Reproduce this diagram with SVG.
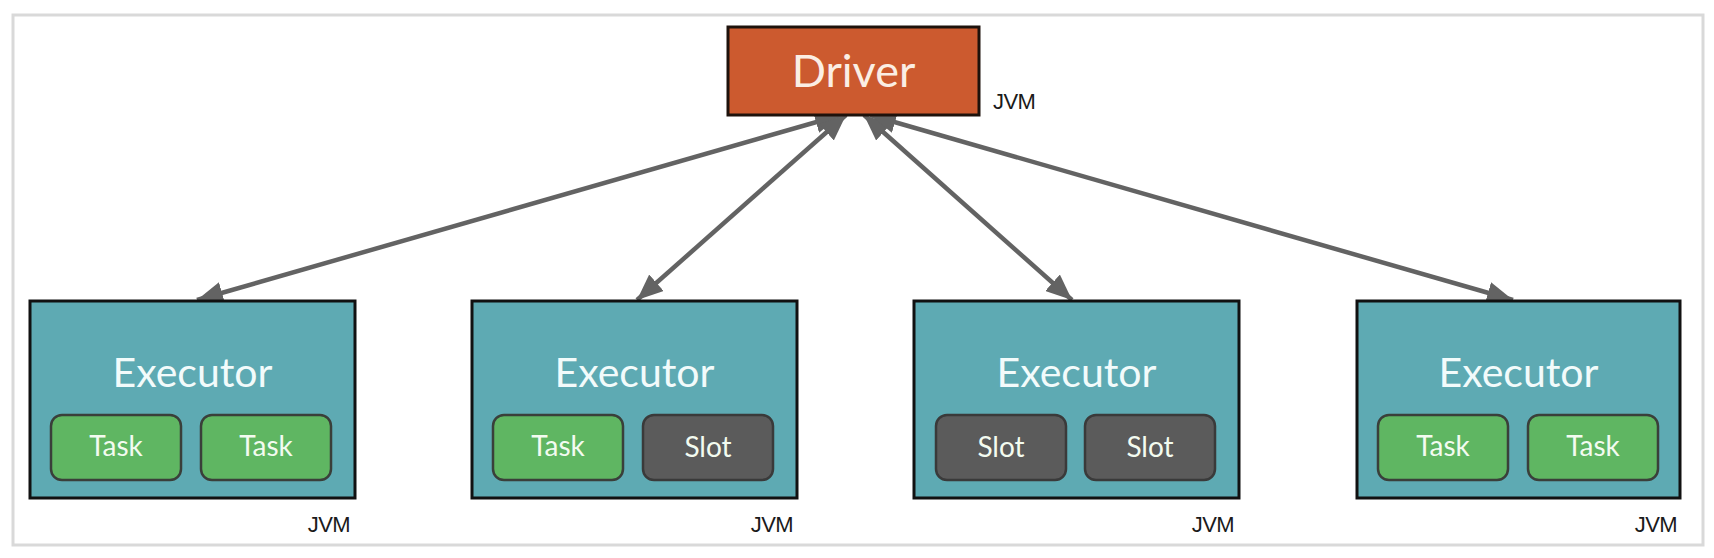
<svg xmlns="http://www.w3.org/2000/svg" width="1714" height="558" viewBox="0 0 1714 558">
<style>
.frame{fill:#ffffff;stroke:#d9d9d9;stroke-width:3}
.exec{fill:#5eaab3;stroke:#111111;stroke-width:3}
.driver{fill:#cc5a2f;stroke:#1e120c;stroke-width:3}
.task{fill:#5fb662;stroke:#3a3f3a;stroke-width:2.5}
.slot{fill:#5b5b5b;stroke:#3a3a3a;stroke-width:2.5}
.conn{stroke:#636363;stroke-width:4.5;fill:none;marker-start:url(#ah);marker-end:url(#ah)}
.t-driver{font-family:Lato,"Noto Sans",sans-serif;font-size:45px;fill:#fbeee4;text-anchor:middle}
.t-exec{font-family:Lato,"Noto Sans",sans-serif;font-size:41px;fill:#f2fbfb;text-anchor:middle}
.t-small{font-family:Lato,"Noto Sans",sans-serif;font-size:28px;fill:#f3fbf0;text-anchor:middle}
.t-jvm{font-family:"Liberation Sans",Arial,sans-serif;font-size:22px;fill:#1a1a1a;letter-spacing:-0.6px}
</style>
<defs>
<marker id="ah" viewBox="0 0 26 22" refX="26" refY="11" markerWidth="26" markerHeight="22" markerUnits="userSpaceOnUse" orient="auto-start-reverse">
<path d="M0,0 L26,11 L0,22 z" fill="#636363"/>
</marker>
</defs>
<rect class="frame" x="13" y="15" width="1690" height="530"/>
<g id="connectors">
<line class="conn" x1="841" y1="115" x2="197" y2="300"/>
<line class="conn" x1="846" y1="115" x2="637" y2="300"/>
<line class="conn" x1="864" y1="115" x2="1072" y2="300"/>
<line class="conn" x1="870" y1="115" x2="1513" y2="300"/>
</g>
<g id="driver">
<rect class="driver" x="728" y="27" width="251" height="88"/>
<text class="t-driver" x="853.5" y="87">Driver</text>
<text class="t-jvm" x="993" y="109">JVM</text>
</g>
<g id="executor1">
<rect class="exec" x="30" y="301" width="325" height="197"/>
<text class="t-exec" x="192.5" y="387">Executor</text>
<rect class="task" x="51" y="415" width="130" height="65" rx="11"/>
<text class="t-small" x="116" y="456">Task</text>
<rect class="task" x="201" y="415" width="130" height="65" rx="11"/>
<text class="t-small" x="266" y="456">Task</text>
<text class="t-jvm" x="350" y="532" text-anchor="end">JVM</text>
</g>
<g id="executor2">
<rect class="exec" x="472" y="301" width="325" height="197"/>
<text class="t-exec" x="634.5" y="387">Executor</text>
<rect class="task" x="493" y="415" width="130" height="65" rx="11"/>
<text class="t-small" x="558" y="456">Task</text>
<rect class="slot" x="643" y="415" width="130" height="65" rx="11"/>
<text class="t-small" x="708" y="457">Slot</text>
<text class="t-jvm" x="793" y="532" text-anchor="end">JVM</text>
</g>
<g id="executor3">
<rect class="exec" x="914" y="301" width="325" height="197"/>
<text class="t-exec" x="1076.5" y="387">Executor</text>
<rect class="slot" x="936" y="415" width="130" height="65" rx="11"/>
<text class="t-small" x="1001" y="457">Slot</text>
<rect class="slot" x="1085" y="415" width="130" height="65" rx="11"/>
<text class="t-small" x="1150" y="457">Slot</text>
<text class="t-jvm" x="1234" y="532" text-anchor="end">JVM</text>
</g>
<g id="executor4">
<rect class="exec" x="1357" y="301" width="323" height="197"/>
<text class="t-exec" x="1518.5" y="387">Executor</text>
<rect class="task" x="1378" y="415" width="130" height="65" rx="11"/>
<text class="t-small" x="1443" y="456">Task</text>
<rect class="task" x="1528" y="415" width="130" height="65" rx="11"/>
<text class="t-small" x="1593" y="456">Task</text>
<text class="t-jvm" x="1677" y="532" text-anchor="end">JVM</text>
</g>
</svg>
